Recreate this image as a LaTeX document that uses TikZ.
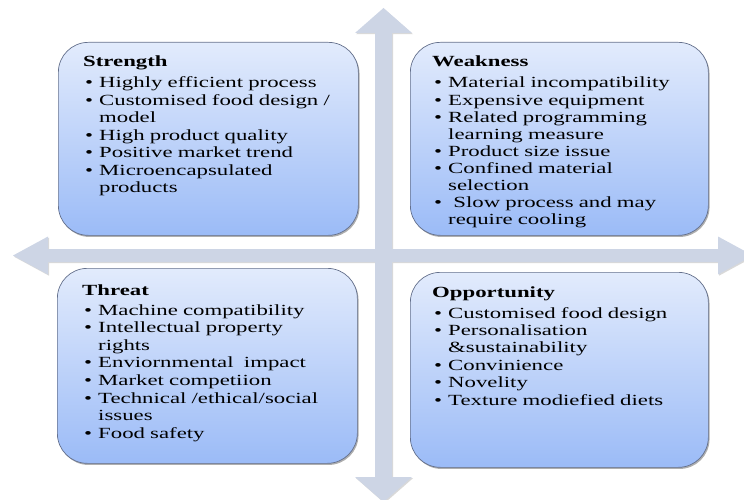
\documentclass[tikz,border=0pt]{standalone}
\usepackage{fontspec}
\setmainfont{Liberation Serif}[FakeStretch=1.47]
\usetikzlibrary{shadows}
\definecolor{arrowc}{RGB}{205,213,229}
\definecolor{boxtop}{RGB}{226,235,252}
\definecolor{boxbot}{RGB}{155,187,247}
\definecolor{boxline}{RGB}{100,112,140}
\newcommand{\itm}[1]{\makebox[16pt][l]{\hspace{2pt}\textbullet}#1}
\newcommand{\cnt}[1]{\hspace*{16pt}#1}
\tikzset{
  swotbox/.style={draw=boxline, line width=0.7pt, rounded corners=30pt,
    top color=boxtop, bottom color=boxbot, anchor=north west, inner sep=0pt,
    drop shadow={shadow xshift=1.2pt, shadow yshift=-1.6pt, opacity=0.45, fill=black!70}},
  swottext/.style={anchor=base west, inner sep=0pt, text width=290pt, align=left},
  axisarrow/.style={fill=arrowc,
    drop shadow={shadow xshift=1pt, shadow yshift=-1.2pt, opacity=0.25, fill=black!60}}
}
\begin{document}
\begin{tikzpicture}[x=1pt, y=-1pt]
\useasboundingbox (0,0) rectangle (744,500);
\clip (0,0) rectangle (744,500);
% axes (two double-headed arrows)
\coordinate (vtop) at (383.5,8);
\coordinate (vbot) at (383.5,502);
\coordinate (hleft) at (13,255.5);
\coordinate (hright) at (753,255.5);
\path[axisarrow]
  (vtop) -- (412,33) -- (392,33) -- (392,477) -- (412,477) -- (vbot)
  -- (355,477) -- (375,477) -- (375,33) -- (355,33) -- cycle
  (hleft) -- (48,236.5) -- (48,249) -- (718,249) -- (718,236.5) -- (hright)
  -- (718,274.5) -- (718,262) -- (48,262) -- (48,274.5) -- cycle;
% boxes
\node[swotbox, minimum width=300pt, minimum height=193pt] (S) at (58,42) {};
\node[swotbox, minimum width=298pt, minimum height=193pt] (W) at (410,42) {};
\node[swotbox, minimum width=300pt, minimum height=195pt] (T) at (57,268) {};
\node[swotbox, minimum width=298pt, minimum height=195pt] (O) at (410,272) {};
% texts
\node[swottext, font=\fontsize{15.5}{17.5}\selectfont] (St) at (83,66.7) {%
{\bfseries Strength}\\[3.8pt]
\itm{Highly efficient process}\\
\itm{Customised food design /}\\
\cnt{model}\\
\itm{High product quality}\\
\itm{Positive market trend}\\
\itm{Microencapsulated}\\
\cnt{products}};
\node[swottext, font=\fontsize{15.5}{17.1}\selectfont] (Wt) at (432,66.7) {%
{\bfseries Weakness}\\[4.2pt]
\itm{Material incompatibility}\\
\itm{Expensive equipment}\\
\itm{Related programming}\\
\cnt{learning measure}\\
\itm{Product size issue}\\
\itm{Confined material}\\
\cnt{selection}\\
\itm{ Slow process and may}\\
\cnt{require cooling}};
\node[swottext, font=\fontsize{15.5}{17.6}\selectfont] (Tt) at (82,295) {%
{\bfseries Threat}\\[2.4pt]
\itm{Machine compatibility}\\
\itm{Intellectual property}\\
\cnt{rights}\\
\itm{Enviornmental\ \ impact}\\
\itm{Market competiion}\\
\itm{Technical /ethical/social}\\
\cnt{issues}\\
\itm{Food safety}};
\node[swottext, font=\fontsize{15.5}{17.4}\selectfont] (Ot) at (432,297) {%
{\bfseries Opportunity}\\[3.6pt]
\itm{Customised food design}\\
\itm{Personalisation}\\
\cnt{\&sustainability}\\
\itm{Convinience}\\
\itm{Novelity}\\
\itm{Texture modiefied diets}};
\end{tikzpicture}
\end{document}
